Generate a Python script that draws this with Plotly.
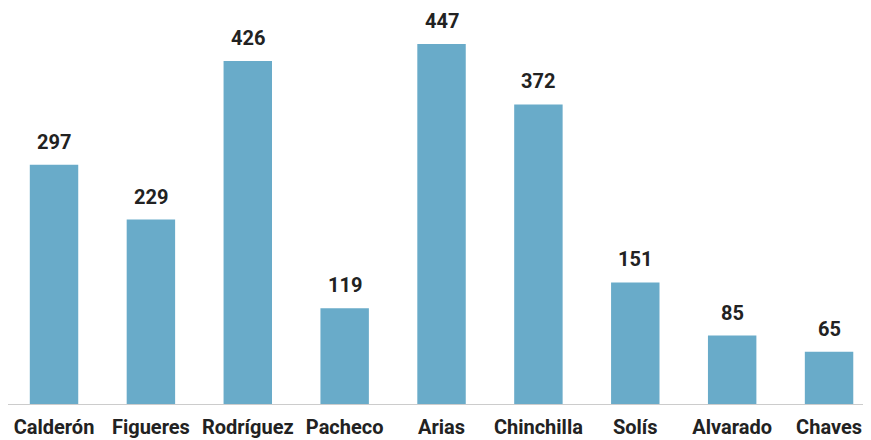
import plotly.graph_objects as go

categories = ["Calderón", "Figueres", "Rodríguez", "Pacheco", "Arias", "Chinchilla", "Solís", "Alvarado", "Chaves"]
values = [297, 229, 426, 119, 447, 372, 151, 85, 65]

fig = go.Figure(go.Bar(
    x=categories, y=values,
    marker=dict(color="#69abc9", line=dict(width=0)),
    width=0.5,
    hoverinfo="skip",
))

for c, v in zip(categories, values):
    fig.add_annotation(x=c, y=v, text=f"<b>{v}</b>", showarrow=False,
                       yanchor="bottom", yshift=9,
                       font=dict(family="Roboto", size=20, color="#222222"))

fig.update_layout(
    width=863, height=432,
    margin=dict(l=0, r=0, t=0, b=36),
    plot_bgcolor="white", paper_bgcolor="white",
    showlegend=False,
    bargap=0.5,
    xaxis=dict(range=[-0.475, 8.433], showline=True, linecolor="#cccccc", linewidth=1,
               automargin=False, ticklabelstandoff=5,
               showgrid=False, ticks="", tickfont=dict(family="Roboto", size=20, color="#222222"),
               tickprefix="<b>", ticksuffix="</b>"),
    yaxis=dict(range=[0, 491.7], visible=False, showgrid=False, zeroline=False, automargin=False),
)
fig.write_html("out.html")
